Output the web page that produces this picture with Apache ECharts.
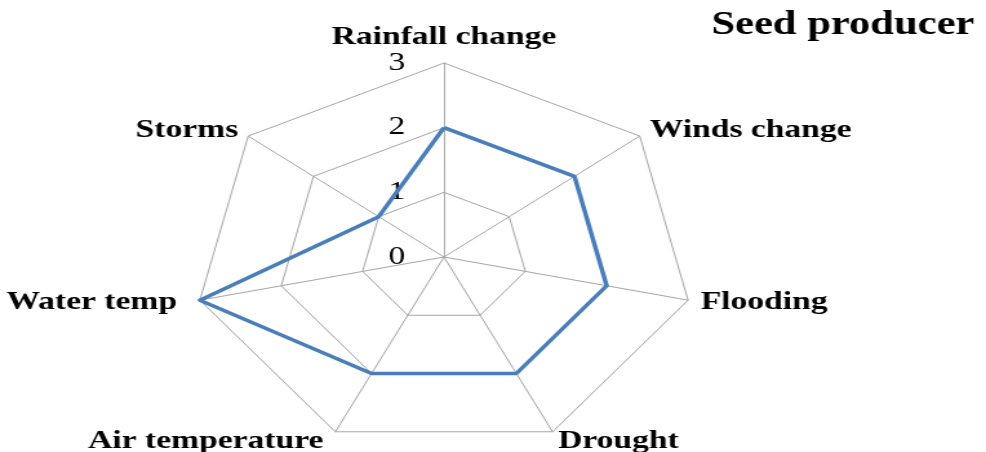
<!DOCTYPE html>
<html>
<head>
<meta charset="utf-8">
<script src="https://cdn.jsdelivr.net/npm/echarts@6/dist/echarts.min.js"></script>
<style>
html,body{margin:0;padding:0;background:#fff;overflow:hidden;}
#wrap{width:986px;height:452px;overflow:hidden;}
#chart{width:764px;height:452px;transform:scaleX(1.2906);transform-origin:0 0;}
</style>
</head>
<body>
<div id="wrap"><div id="chart"></div></div>
<script>
// Categories in counter-clockwise order starting at the top (ECharts radar order)
const categories = ['Rainfall change', 'Storms', 'Water temp', 'Air temperature', 'Drought', 'Flooding', 'Winds change'];
const seedProducer = [2, 1, 3, 2, 2, 2, 2];
const axisMax = 3;
const titleText = 'Seed producer';

const FONT = '"Liberation Serif", "Times New Roman", serif';
const chart = echarts.init(document.getElementById('chart'), null, {renderer: 'canvas'});

const indicators = categories.map((name, i) => {
  const ind = {name: name, min: 0, max: axisMax};
  if (i === 0) {
    ind.axisLabel = {show: true, color: '#000', fontSize: 26, fontFamily: FONT, margin: 30};
  }
  return ind;
});

const nameStyle = {color: '#000', fontFamily: FONT, fontWeight: 'bold', fontSize: 26};

chart.setOption({
  animation: false,
  backgroundColor: '#fff',
  title: {
    text: titleText,
    right: 4,
    top: 4,
    textStyle: {fontFamily: FONT, fontWeight: 'bold', fontSize: 33, color: '#000'}
  },
  radar: {
    center: [344, 257],
    radius: 194,
    startAngle: 90,
    splitNumber: 3,
    shape: 'polygon',
    indicator: indicators,
    nameGap: 10,
    axisName: Object.assign({}, nameStyle, {
      formatter: function (name) {
        if (name === 'Water temp') return '{w|' + name + '}';
        if (name === 'Air temperature') return '{a|' + name + '}';
        return name;
      },
      rich: {
        w: Object.assign({}, nameStyle, {padding: [0, 8, 0, 0]}),
        a: Object.assign({}, nameStyle, {padding: [0, 5, 0, 0]})
      }
    }),
    axisLine: {show: true, lineStyle: {color: '#a6a6a6', width: 1}},
    splitLine: {show: true, lineStyle: {color: '#a6a6a6', width: 1}},
    splitArea: {show: false},
    axisTick: {show: false},
    axisLabel: {show: false}
  },
  series: [{
    type: 'radar',
    symbol: 'none',
    lineStyle: {color: '#4a7ebb', width: 3.5},
    itemStyle: {color: '#4a7ebb'},
    data: [{value: seedProducer, name: titleText}]
  }]
});
</script>
</body>
</html>
